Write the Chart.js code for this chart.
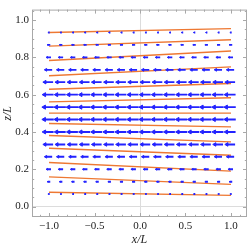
<!DOCTYPE html>
<html>
<head>
<meta charset="utf-8">
<script src="https://cdn.jsdelivr.net/npm/chart.js@4.4.0/dist/chart.umd.min.js"></script>
<style>
  html, body { margin: 0; padding: 0; background: #ffffff; }
  #wrap { width: 249px; height: 247px; }
</style>
</head>
<body>
<div id="wrap"><canvas id="c" width="249" height="247"></canvas></div>
<script>
// ---------- data ----------
const xTickValues = [-1.0, -0.5, 0.0, 0.5, 1.0];
const zTickValues = [0.0, 0.2, 0.4, 0.6, 0.8, 1.0];

// blue arrows (velocity field): grid columns, rows and relative speed per row (negative = to the left)
const arrowX = [-1.000, -0.867, -0.733, -0.600, -0.467, -0.333, -0.200, -0.067,
                 0.067, 0.200, 0.333, 0.467, 0.600, 0.733, 0.867, 1.000];
const arrowZ = [0.067, 0.133, 0.200, 0.267, 0.333, 0.400, 0.467,
                0.533, 0.600, 0.667, 0.733, 0.800, 0.867, 0.933];
const arrowU = [-0.15, -0.26, -0.42, -0.66, -0.86, -0.96, -1.00,
                -1.00, -0.96, -0.86, -0.66, -0.42, -0.26, -0.15];

// orange material lines: height at x/L = -1 and at x/L = +1
const lineX = [-1.0, 1.0];
const lineZLeft  = [0.077, 0.159, 0.236, 0.313, 0.381, 0.445, 0.501, 0.561, 0.629, 0.701, 0.783, 0.860, 0.933];
const lineZRight = [0.060, 0.119, 0.190, 0.275, 0.347, 0.427, 0.501, 0.583, 0.660, 0.749, 0.834, 0.894, 0.954];

// ---------- build datasets ----------
const ARROW_SCALE = 0.105; // data-length of the fastest arrow
const BLUE = 'rgb(35,35,255)';
const ORANGE = 'rgb(238,120,50)';

const datasets = [];
arrowZ.forEach((z, r) => {
  const u = arrowU[r];
  const pts = [];
  arrowX.forEach(x => {
    pts.push({x: x - u * ARROW_SCALE / 2, y: z}); // tail
    pts.push({x: x + u * ARROW_SCALE / 2, y: z}); // head
    pts.push({x: x, y: null});                    // break
  });
  datasets.push({
    type: 'scatter',
    data: pts,
    showLine: true,
    spanGaps: false,
    borderColor: BLUE,
    borderWidth: 1.9,
    backgroundColor: BLUE,
    pointStyle: 'triangle',
    pointRotation: 270,
    pointBorderWidth: 1,
    pointBorderColor: BLUE,
    pointBackgroundColor: BLUE,
    pointRadius: (ctx) => {
      if (ctx.dataIndex % 3 !== 1) return 0;
      const sx = ctx.chart.scales.x;
      const d = ctx.dataset.data;
      const tail = d[ctx.dataIndex - 1].x, head = d[ctx.dataIndex].x;
      const len = Math.abs(sx.getPixelForValue(head) - sx.getPixelForValue(tail));
      return Math.max(0.4, 0.25 * len);
    },
    pointHoverRadius: 0
  });
});
lineZLeft.forEach((zl, i) => {
  datasets.push({
    type: 'line',
    data: [{x: lineX[0], y: zl}, {x: lineX[1], y: lineZRight[i]}],
    borderColor: ORANGE,
    borderWidth: 1.4,
    pointRadius: 0,
    tension: 0
  });
});

// ---------- frame with inward ticks ----------
const framePlugin = {
  id: 'frame',
  afterDraw(chart) {
    const {ctx, chartArea: a, scales: {x, y}} = chart;
    ctx.save();
    ctx.strokeStyle = '#a8a8a8';
    ctx.lineWidth = 1;
    ctx.strokeRect(a.left + 0.5, a.top + 0.5, a.right - a.left - 1, a.bottom - a.top - 1);
    ctx.beginPath();
    for (let k = -12; k <= 12; k++) {
      const v = k / 10;
      if (v < x.min || v > x.max) continue;
      const px = Math.round(x.getPixelForValue(v)) + 0.5;
      const L = (k % 5 === 0) ? 4 : 2.2;
      ctx.moveTo(px, a.bottom); ctx.lineTo(px, a.bottom - L);
      ctx.moveTo(px, a.top); ctx.lineTo(px, a.top + L);
    }
    for (let k = -2; k <= 22; k++) {
      const v = k / 20;
      if (v < y.min || v > y.max) continue;
      const py = Math.round(y.getPixelForValue(v)) + 0.5;
      const L = (k % 4 === 0) ? 4 : 2.2;
      ctx.moveTo(a.left, py); ctx.lineTo(a.left + L, py);
      ctx.moveTo(a.right, py); ctx.lineTo(a.right - L, py);
    }
    ctx.stroke();
    ctx.restore();
  }
};

const fmt = v => (Math.abs(v) < 1e-9 ? 0 : v).toFixed(1).replace('-', '\u2212');
const tickFont = {family: 'Liberation Serif', size: 11};
const titleFont = {family: 'Liberation Serif', size: 12, style: 'italic'};

new Chart(document.getElementById('c'), {
  type: 'scatter',
  data: {datasets},
  options: {
    responsive: false,
    animation: false,
    devicePixelRatio: 1,
    layout: {padding: {left: 0, right: 2, top: 0, bottom: 0}},
    plugins: {legend: {display: false}, tooltip: {enabled: false}},
    events: [],
    scales: {
      x: {
        type: 'linear',
        min: -1.187, max: 1.176,
        afterFit: s => { s.height = 30; },
        afterBuildTicks: s => { s.ticks = xTickValues.map(v => ({value: v})); },
        ticks: {includeBounds: false, padding: 3, font: tickFont, color: '#222',
                callback: v => fmt(v), maxRotation: 0, autoSkip: false},
        grid: {drawTicks: false, lineWidth: 1,
               color: c => (c.tick && Math.abs(c.tick.value) < 1e-9) ? '#dcdcdc' : 'rgba(0,0,0,0)'},
        border: {display: false},
        title: {display: true, text: 'x/L', font: titleFont, color: '#222', padding: {top: 0, bottom: 0}}
      },
      y: {
        type: 'linear',
        min: -0.056, max: 1.056,
        afterFit: s => { s.width = 32; },
        afterBuildTicks: s => { s.ticks = zTickValues.map(v => ({value: v})); },
        ticks: {includeBounds: false, padding: 3, font: tickFont, color: '#222',
                callback: v => fmt(v), autoSkip: false},
        grid: {drawTicks: false, lineWidth: 1,
               color: c => (c.tick && Math.abs(c.tick.value) < 1e-9) ? '#dcdcdc' : 'rgba(0,0,0,0)'},
        border: {display: false},
        title: {display: true, text: 'z/L', font: titleFont, color: '#222', padding: {top: 1, bottom: 0}}
      }
    }
  },
  plugins: [framePlugin]
});
</script>
</body>
</html>
